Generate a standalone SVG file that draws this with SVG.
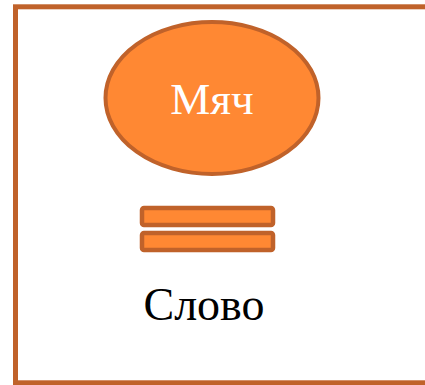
<svg xmlns="http://www.w3.org/2000/svg" width="425" height="385" viewBox="0 0 425 385">
<style>
.shape{fill:#FF8833;stroke:#C0622A}
.t{font-family:"Liberation Serif","Times New Roman",serif;text-anchor:middle}
</style>
<rect width="425" height="385" fill="#fff"/>
<rect id="frame" x="15.5" y="6.8" width="420" height="376" fill="none" stroke="#C0622A" stroke-width="5"/>
<g id="ball">
<ellipse class="shape" cx="212" cy="98" rx="106.5" ry="76" stroke-width="4"/>
<text class="t" x="212" y="114" font-size="45" fill="#fff">Мяч</text>
</g>
<g id="equals">
<rect class="shape" x="142" y="208" width="131" height="17" rx="2" stroke-width="4.5"/>
<rect class="shape" x="142" y="233" width="131" height="17" rx="2" stroke-width="4.5"/>
</g>
<g id="word">
<text class="t" x="204" y="320" font-size="46" fill="#000">Слово</text>
</g>
</svg>
